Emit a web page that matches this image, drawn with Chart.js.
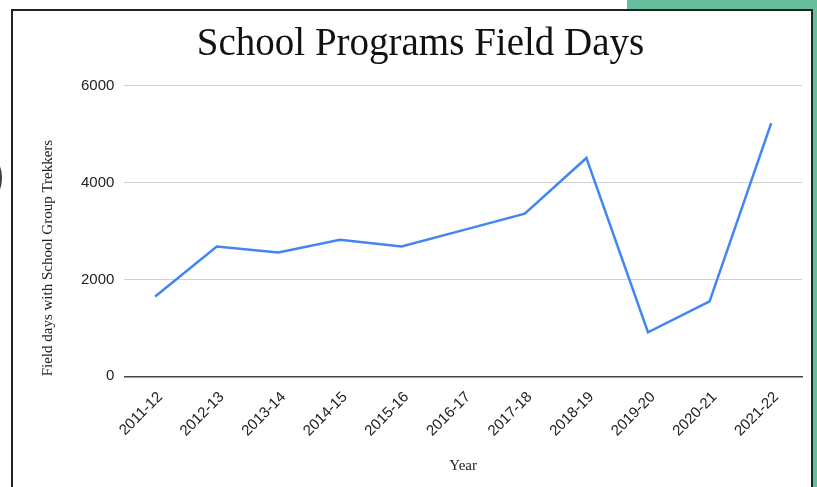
<!DOCTYPE html>
<html>
<head>
<meta charset="utf-8">
<script src="https://cdn.jsdelivr.net/npm/chart.js@4/dist/chart.umd.min.js"></script>
<style>
  html, body { margin: 0; padding: 0; background: #fff; width: 817px; height: 487px; overflow: hidden; }
  #green { position: absolute; left: 627px; top: 0; width: 190px; height: 487px; background: #63bf9c; }
  #frame { position: absolute; left: 11px; top: 9px; width: 798px; height: 500px; border: 2px solid #222; background: #fff; }
  #blob { position: absolute; left: -19px; top: 158px; width: 21px; height: 40px; border-radius: 50%; background: #3a3f4a; }
  #wrap { position: absolute; left: 0; top: 0; width: 817px; height: 487px; }
</style>
</head>
<body>
<div id="green"></div>
<div id="frame"></div>
<div id="blob"></div>
<div id="wrap"><canvas id="c" width="817" height="487"></canvas></div>
<script>
const years = ["2011-12","2012-13","2013-14","2014-15","2015-16","2016-17","2017-18","2018-19","2019-20","2020-21","2021-22"];
const fieldDays = [1650, 2680, 2560, 2820, 2680, 3020, 3360, 4510, 910, 1550, 5230];
const yTicks = [0, 2000, 4000, 6000];

new Chart(document.getElementById('c'), {
  type: 'line',
  data: {
    labels: years,
    datasets: [{
      data: fieldDays,
      borderColor: '#4285f4',
      borderWidth: 2.5,
      pointRadius: 0,
      tension: 0,
      fill: false
    }]
  },
  options: {
    responsive: false,
    animation: false,
    devicePixelRatio: 1,
    layout: { padding: { left: 39, right: 15, top: 21, bottom: 12 } },
    plugins: {
      legend: { display: false },
      tooltip: { enabled: false },
      title: {
        display: true,
        text: 'School Programs Field Days',
        color: '#111',
        font: { family: 'Liberation Serif', size: 39, weight: 'normal' },
        padding: { top: 0, bottom: 18 }
      }
    },
    scales: {
      x: {
        offset: true,
        grid: { display: false },
        border: { display: true, color: '#444', width: 1.5 },
        ticks: {
          maxRotation: 45, minRotation: 45,
          color: '#222',
          font: { family: 'Liberation Sans', size: 15 },
          padding: 4,
          labelOffset: 5
        },
        title: {
          display: true, text: 'Year', color: '#222',
          font: { family: 'Liberation Serif', size: 15 },
          padding: { top: 13, bottom: 0 }
        }
      },
      y: {
        min: 0, max: 6000,
        afterBuildTicks: (axis) => { axis.ticks = yTicks.map(v => ({ value: v })); },
        grid: {
          color: (ctx) => ctx.tick && ctx.tick.value === 0 ? 'rgba(0,0,0,0)' : '#d0d0d0',
          drawTicks: false,
          lineWidth: 1
        },
        border: { display: false },
        ticks: {
          color: '#222',
          font: { family: 'Liberation Sans', size: 15 },
          padding: 10,
          callback: (v) => String(v)
        },
        title: {
          display: true, text: 'Field days with School Group Trekkers', color: '#222',
          align: 'start',
          font: { family: 'Liberation Serif', size: 15 },
          padding: { top: 0, bottom: 14 }
        }
      }
    }
  }
});
</script>
</body>
</html>
